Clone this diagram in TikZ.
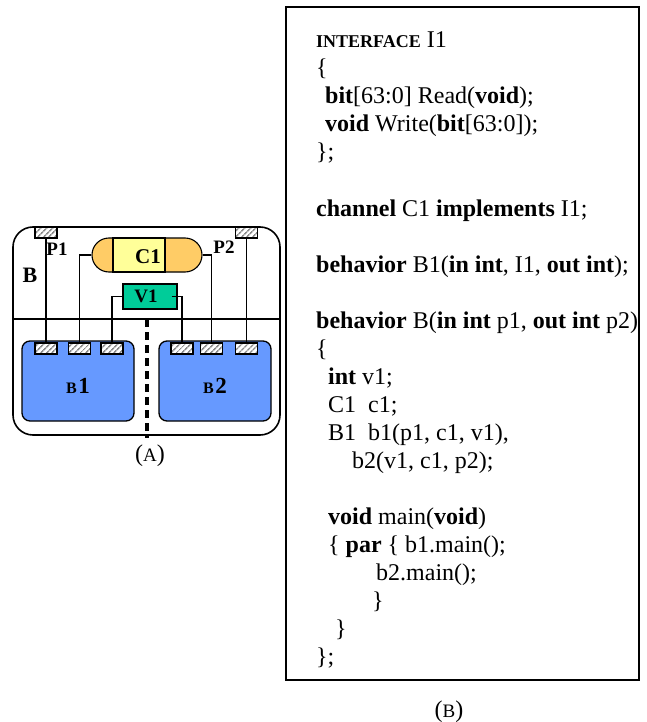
\documentclass[tikz,border=0pt]{standalone}
\usepackage{fontspec}
\setmainfont{Liberation Serif}
\usetikzlibrary{patterns.meta,shapes.misc}

\definecolor{blkblue}{RGB}{102,153,255}
\definecolor{vargreen}{RGB}{0,204,153}
\definecolor{chyellow}{RGB}{255,255,153}
\definecolor{chorange}{RGB}{255,204,102}
\definecolor{hatchgray}{RGB}{140,140,140}

\newcommand\codesz{\fontsize{24}{28}\selectfont}
\newcommand\lblsz[1]{\fontsize{#1}{#1}\selectfont}

\begin{document}
\begin{tikzpicture}[x=1pt,y=-1pt,
  port/.style={draw, line width=1.1pt, minimum width=22pt, minimum height=11pt,
    inner sep=0pt, preaction={fill=white},
    pattern={Lines[angle=45,distance=4pt,line width=1.6pt]}, pattern color=hatchgray},
  wire/.style={line width=1.2pt},
  blk/.style={draw, line width=1.3pt, fill=blkblue, rounded corners=8pt,
    minimum width=112pt, minimum height=80pt, inner sep=0pt},
  lbl/.style={inner sep=0pt, font=\bfseries},
  codeln/.style={anchor=base west, inner sep=0pt, font=\codesz}]

\useasboundingbox (0,0) rectangle (646,722);

% ---------- (A): structural view of behavior B ----------
\node[draw, line width=1.6pt, rounded corners=20pt, minimum width=267pt,
  minimum height=208pt, inner sep=0pt] (outer) at (146.5,331) {};
\draw[line width=1.3pt] (outer.west |- 0,319) -- (outer.east |- 0,319);

% channel C1
\node[rounded rectangle, draw, line width=1.1pt, fill=chorange,
  minimum width=110pt, minimum height=34pt, inner sep=0pt] (c1cap) at (147,255) {};
\node[draw, line width=1.1pt, fill=chyellow, minimum width=52pt,
  minimum height=34pt, inner sep=0pt] (c1) at (139,255) {};
\node[lbl, font=\bfseries\lblsz{21}] (c1t) at (148,257) {C1};

% variable v1
\node[draw, line width=1.1pt, fill=vargreen, minimum width=54pt,
  minimum height=25pt, inner sep=0pt, font=\bfseries\lblsz{19}] (v1) at (150,296.5) {\hspace{-8pt}V1};

% sub-behaviors
\node[blk] (b1) at (78,381) {};
\node[blk] (b2) at (215,381) {};

% ports
\coordinate (pp1) at (46,232.5);
\coordinate (pp2) at (246.5,232.5);
\coordinate (q11) at (46,348.5);
\coordinate (q12) at (79.5,348.5);
\coordinate (q13) at (112,348.5);
\coordinate (q21) at (182,348.5);
\coordinate (q22) at (211.5,348.5);
\coordinate (q23) at (246.5,348.5);

% wires
\draw[wire] (pp1) -- (q11);
\draw[wire] (pp2) -- (q23);
\draw[wire] (c1cap.west) -| (q12);
\draw[wire] (c1cap.east) -| (q22);
\draw[wire] (v1.west) -| (q13);
\draw[wire] ([xshift=-6pt]v1.east) -| (q21);

\node[port] (p1) at (pp1) {};
\node[port] (p2) at (pp2) {};
\node[port] (b1p1) at (q11) {};
\node[port] (b1p2) at (q12) {};
\node[port] (b1p3) at (q13) {};
\node[port] (b2p1) at (q21) {};
\node[port] (b2p2) at (q22) {};
\node[port] (b2p3) at (q23) {};

% labels
\node[lbl, font=\bfseries\lblsz{22}] (blab) at (30,275) {B};
\node[lbl, font=\bfseries\lblsz{19}] (p1lab) at (57,249) {P1};
\node[lbl, font=\bfseries\lblsz{19}] (p2lab) at (224,247) {P2};
\node[lbl] (b1lab) at (78,386) {{\lblsz{16}B}\,{\lblsz{23}1}};
\node[lbl] (b2lab) at (215,386) {{\lblsz{16}B}\,{\lblsz{23}2}};

% parallel composition marker
\draw[line width=4pt, dash pattern=on 8pt off 5pt] (147,319) -- (147,438);

\node[inner sep=0pt, font=\lblsz{24}] (capa) at (150,456) {({\lblsz{19}A})};

% ---------- (B): SpecC source ----------
\node[draw, line width=1.6pt, minimum width=353pt, minimum height=673pt,
  inner sep=0pt] (code) at (462.5,343.5) {};

\node[codeln] (l0)  at (316,48)  {{\lblsz{18}\bfseries INTERFACE} I1};
\node[codeln] (l1)  at (316,76)  {\{};
\node[codeln] (l2)  at (325,104) {\textbf{bit}[63:0] Read(\textbf{void});};
\node[codeln] (l3)  at (325,132) {\textbf{void} Write(\textbf{bit}[63:0]);};
\node[codeln] (l4)  at (316,160) {\};};
\node[codeln] (l6)  at (316,216) {\textbf{channel} C1 \textbf{implements} I1;};
\node[codeln] (l8)  at (316,272) {\textbf{behavior} B1(\textbf{in int}, I1, \textbf{out int});};
\node[codeln] (l10) at (316,328) {\textbf{behavior} B(\textbf{in int} p1, \textbf{out int} p2)};
\node[codeln] (l11) at (316,356) {\{};
\node[codeln] (l12) at (328,384) {\textbf{int} v1;};
\node[codeln] (l13) at (328,412) {C1\ \ c1;};
\node[codeln] (l14) at (328,440) {B1\ \ b1(p1, c1, v1),};
\node[codeln] (l15) at (352,468) {b2(v1, c1, p2);};
\node[codeln] (l17) at (328,524) {\textbf{void} main(\textbf{void})};
\node[codeln] (l18) at (328,552) {\{ \textbf{par} \{ b1.main();};
\node[codeln] (l19) at (376,580) {b2.main();};
\node[codeln] (l20) at (372,608) {\}};
\node[codeln] (l21) at (335,636) {\}};
\node[codeln] (l22) at (316,664) {\};};

\node[inner sep=0pt, font=\lblsz{24}] (capb) at (449,712) {({\lblsz{19}B})};

\end{tikzpicture}
\end{document}
